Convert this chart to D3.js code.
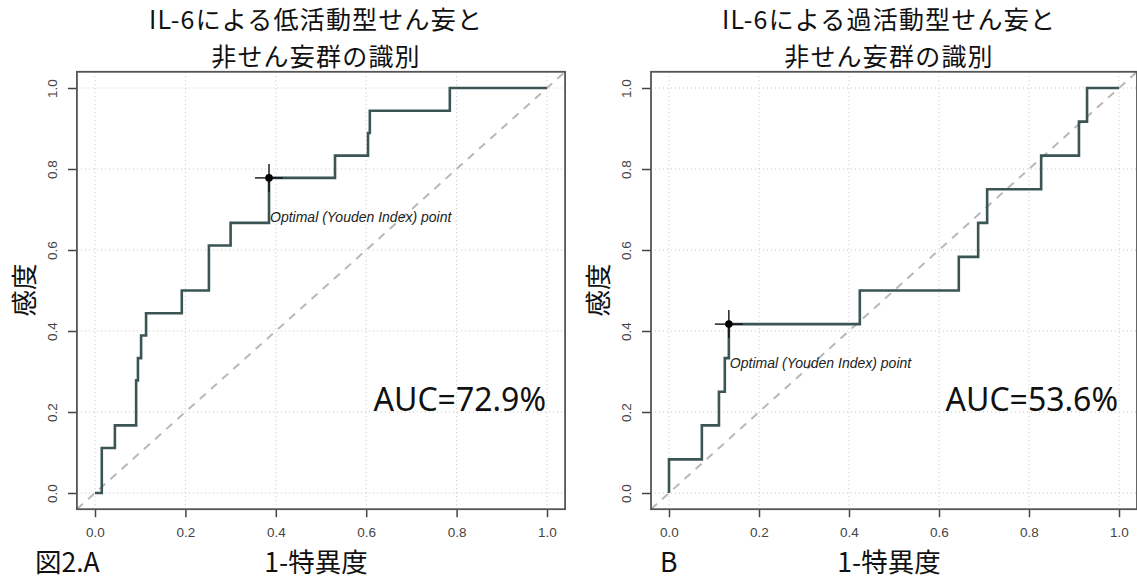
<!DOCTYPE html>
<html>
<head>
<meta charset="utf-8">
<script src="https://cdn.jsdelivr.net/npm/d3@7"></script>
<style>
  body { margin: 0; background: #fff; }
  svg { display: block; }
  .jp { font-family: "Noto Sans CJK JP", "Noto Sans", sans-serif; }
</style>
</head>
<body>
<svg id="chart"></svg>
<script>
const width = 1137;
const height = 579;

// panel A: hypoactive delirium vs non-delirium
const fprA = [0, 0.015, 0.044, 0.091, 0.095, 0.102, 0.113, 0.192, 0.252, 0.30, 0.385, 0.531, 0.604, 0.608, 0.785, 1.0];
const sensA = [0, 0.111, 0.167, 0.278, 0.333, 0.389, 0.444, 0.5, 0.611, 0.667, 0.778, 0.833, 0.889, 0.944, 1.0, 1.0];
const optA = [0.385, 0.778];
const aucA = "AUC=72.9%";
const titleA = ["IL-6による低活動型せん妄と", "非せん妄群の識別"];

// panel B: hyperactive delirium vs non-delirium
const fprB = [0, 0, 0.073, 0.111, 0.124, 0.133, 0.424, 0.644, 0.687, 0.707, 0.827, 0.911, 0.929, 1.0];
const sensB = [0, 0.083, 0.167, 0.25, 0.333, 0.417, 0.5, 0.583, 0.667, 0.75, 0.833, 0.917, 1.0, 1.0];
const optB = [0.133, 0.417];
const aucB = "AUC=53.6%";
const titleB = ["IL-6による過活動型せん妄と", "非せん妄群の識別"];

const ticks = [0, 0.2, 0.4, 0.6, 0.8, 1.0];
const tickLabels = ["0.0", "0.2", "0.4", "0.6", "0.8", "1.0"];
const optLabel = "Optimal (Youden Index) point";

const svg = d3.select("#chart")
  .attr("width", width)
  .attr("height", height);

const panels = [
  { fpr: fprA, sens: sensA, opt: optA, auc: aucA, title: titleA, x0: 95, x1: 547, tag: "図2.A", tagX: 35 },
  { fpr: fprB, sens: sensB, opt: optB, auc: aucB, title: titleB, x0: 669, x1: 1119, tag: "B", tagX: 660 }
];

panels.forEach(p => {
  const x = d3.scaleLinear().domain([0, 1]).range([p.x0, p.x1]);
  const y = d3.scaleLinear().domain([0, 1]).range([493, 88]);
  const g = svg.append("g");

  // grid
  g.selectAll(".vgrid").data(ticks).enter().append("line")
    .attr("x1", d => x(d)).attr("x2", d => x(d))
    .attr("y1", y(-0.04)).attr("y2", y(1.04))
    .attr("stroke", "#c4c4c4").attr("stroke-width", 1).attr("stroke-dasharray", "1,3");
  g.selectAll(".hgrid").data(ticks).enter().append("line")
    .attr("y1", d => y(d)).attr("y2", d => y(d))
    .attr("x1", x(-0.04)).attr("x2", x(1.04))
    .attr("stroke", "#c4c4c4").attr("stroke-width", 1).attr("stroke-dasharray", "1,3");

  // diagonal
  g.append("line")
    .attr("x1", x(-0.04)).attr("y1", y(-0.04))
    .attr("x2", x(1.04)).attr("y2", y(1.04))
    .attr("stroke", "#b8b8b8").attr("stroke-width", 2).attr("stroke-dasharray", "8,7");

  // axes
  const xAxis = d3.axisBottom(x).tickValues(ticks).tickSize(8).tickPadding(10)
    .tickFormat((d, i) => tickLabels[i]);
  const ax = g.append("g")
    .attr("transform", `translate(0, ${y(-0.04)})`)
    .call(xAxis);
  ax.select(".domain").remove();
  ax.selectAll(".tick line").attr("stroke", "#444").attr("stroke-width", 1.5);
  ax.selectAll(".tick text").attr("fill", "#444")
    .style("font-family", "'Liberation Sans', Arial, sans-serif").style("font-size", "13.5px");

  const yAxis = d3.axisLeft(y).tickValues(ticks).tickSize(9)
    .tickFormat((d, i) => tickLabels[i]);
  const ay = g.append("g")
    .attr("transform", `translate(${x(-0.04)}, 0)`)
    .call(yAxis);
  ay.select(".domain").remove();
  ay.selectAll(".tick line").attr("stroke", "#444").attr("stroke-width", 1.5);
  ay.selectAll(".tick text")
    .attr("x", 0).attr("dy", 0)
    .attr("transform", "translate(-20, 0) rotate(-90)")
    .attr("text-anchor", "middle")
    .attr("fill", "#444")
    .style("font-family", "'Liberation Sans', Arial, sans-serif").style("font-size", "13.5px");

  // box
  g.append("rect")
    .attr("x", x(-0.04)).attr("y", y(1.04))
    .attr("width", x(1.04) - x(-0.04)).attr("height", y(-0.04) - y(1.04))
    .attr("fill", "none").attr("stroke", "#555").attr("stroke-width", 1.8);

  // ROC curve
  const pts = p.fpr.map((d, i) => [d, p.sens[i]]);
  g.append("path")
    .datum(pts)
    .attr("fill", "none")
    .attr("stroke", "#3b5454")
    .attr("stroke-width", 2.6)
    .attr("d", d3.line().x(d => x(d[0])).y(d => y(d[1])).curve(d3.curveStepAfter));

  // optimal point
  const ox = x(p.opt[0]), oy = y(p.opt[1]);
  g.append("line").attr("x1", ox - 14).attr("x2", ox + 14).attr("y1", oy).attr("y2", oy)
    .attr("stroke", "#111").attr("stroke-width", 1.4);
  g.append("line").attr("x1", ox).attr("x2", ox).attr("y1", oy - 14).attr("y2", oy + 14)
    .attr("stroke", "#111").attr("stroke-width", 1.4);
  g.append("circle").attr("cx", ox).attr("cy", oy).attr("r", 3.8).attr("fill", "#000");
  g.append("text")
    .attr("x", ox + 1).attr("y", oy + 44)
    .style("font-family", "'Liberation Sans', Arial, sans-serif")
    .style("font-size", "14px").style("font-style", "italic")
    .attr("fill", "#222")
    .text(optLabel);

  // AUC
  g.append("text")
    .attr("x", p.x1 - 1).attr("y", 411)
    .attr("text-anchor", "end")
    .style("font-family", "'Noto Sans', sans-serif").style("font-size", "32px")
    .attr("fill", "#111")
    .text(p.auc);

  // titles
  const cx = (x(-0.04) + x(1.04)) / 2;
  p.title.forEach((t, i) => {
    g.append("text").attr("class", "jp")
      .attr("x", cx - 5).attr("y", 29 + i * 36.5)
      .attr("text-anchor", "middle")
      .style("font-size", "25px").style("letter-spacing", "1.2px").attr("fill", "#111")
      .text(t);
  });

  // axis labels
  g.append("text").attr("class", "jp")
    .attr("x", cx - 5).attr("y", 572)
    .attr("text-anchor", "middle")
    .style("font-size", "26.5px").attr("fill", "#111")
    .text("1-特異度");
  g.append("text").attr("class", "jp")
    .attr("transform", `translate(${x(-0.04) - 43}, 290) rotate(-90)`)
    .attr("text-anchor", "middle")
    .style("font-size", "26.5px").attr("fill", "#111")
    .text("感度");
  g.append("text").attr("class", "jp")
    .attr("x", p.tagX).attr("y", 572)
    .style("font-size", "26.5px").attr("fill", "#111")
    .text(p.tag);
});
</script>
</body>
</html>
